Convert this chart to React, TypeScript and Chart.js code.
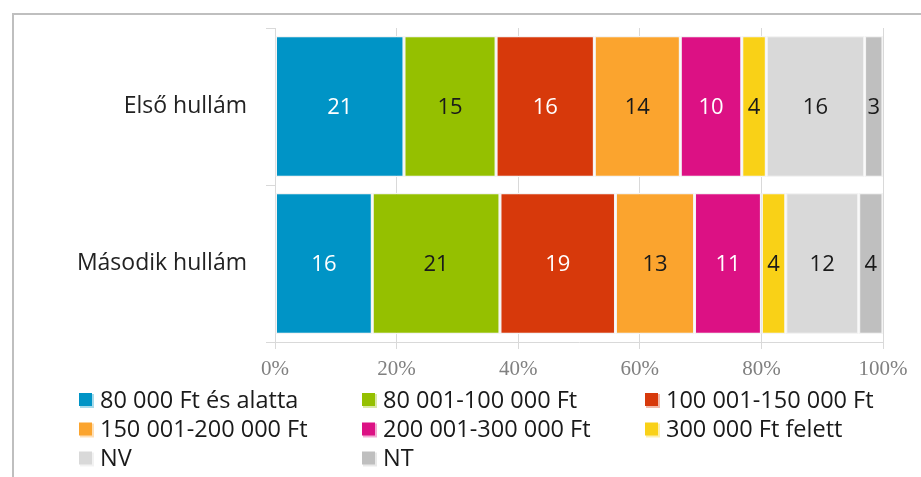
import { useEffect, useRef } from "react";
import { Chart, registerables } from "chart.js";

Chart.register(...registerables);

// Survey waves (categories on the vertical axis)
const categories = ["Első hullám", "Második hullám"];

// Income brackets (stacked series)
const seriesNames = [
  "80 000 Ft és alatta",
  "80 001-100 000 Ft",
  "100 001-150 000 Ft",
  "150 001-200 000 Ft",
  "200 001-300 000 Ft",
  "300 000 Ft felett",
  "NV",
  "NT",
];

// Shares per bracket, in the same order as seriesNames
const firstWave = [21, 15, 16, 14, 10, 4, 16, 3];
const secondWave = [16, 21, 19, 13, 11, 4, 12, 4];

const seriesColors = [
  "#0094C6",
  "#95C000",
  "#D7390B",
  "#FBA42E",
  "#DC1184",
  "#F9D117",
  "#D9D9D9",
  "#BFBFBF",
];
const valueLabelColors = [
  "#FFFFFF",
  "#1A1A1A",
  "#FFFFFF",
  "#1A1A1A",
  "#FFFFFF",
  "#1A1A1A",
  "#1A1A1A",
  "#1A1A1A",
];

const xTickValues = [0, 20, 40, 60, 80, 100];

const SANS = "'Open Sans', sans-serif";
const SERIF = "'Liberation Serif', serif";

const waves = [firstWave, secondWave];
const waveTotals = waves.map((w) => w.reduce((a, b) => a + b, 0));

// Outer frame around the figure
const framePlugin = {
  id: "frame",
  beforeDraw(chart: any) {
    const { ctx, width, height } = chart;
    ctx.save();
    ctx.fillStyle = "#FFFFFF";
    ctx.fillRect(0, 0, width, height);
    ctx.fillStyle = "#BFBFBF";
    ctx.fillRect(12, 13, width - 12, 2);
    ctx.fillRect(12, 13, 2, height - 13);
    ctx.restore();
  },
};

// Raw values written in the middle of each segment
const valueLabelPlugin = {
  id: "valueLabels",
  afterDatasetsDraw(chart: any) {
    const { ctx } = chart;
    ctx.save();
    ctx.font = `22px ${SANS}`;
    ctx.textAlign = "center";
    ctx.textBaseline = "middle";
    chart.data.datasets.forEach((ds: any, i: number) => {
      const meta = chart.getDatasetMeta(i);
      meta.data.forEach((bar: any, j: number) => {
        const raw = ds.rawValues[j];
        const cx = (bar.x + bar.base) / 2;
        ctx.fillStyle = valueLabelColors[i];
        ctx.fillText(String(raw), cx, bar.y + 1);
      });
    });
    ctx.restore();
  },
};

// Three-column legend under the axis
const gridLegendPlugin = {
  id: "gridLegend",
  afterDraw(chart: any) {
    const { ctx } = chart;
    const colX = [79, 362, 645];
    const rowY = [400, 429.5, 458.5];
    ctx.save();
    ctx.font = `23.5px ${SANS}`;
    ctx.textAlign = "left";
    ctx.textBaseline = "middle";
    chart.data.datasets.forEach((ds: any, i: number) => {
      const x = colX[i % 3];
      const y = rowY[Math.floor(i / 3)];
      ctx.globalAlpha = 0.35;
      ctx.fillStyle = ds.backgroundColor;
      ctx.fillRect(x + 1, y - 6, 14, 14);
      ctx.globalAlpha = 1;
      ctx.fillRect(x, y - 7, 13, 13);
      ctx.fillStyle = "#1A1A1A";
      ctx.fillText(ds.label, x + 21, y + 1);
    });
    ctx.restore();
  },
};

export default function App() {
  const canvasRef = useRef<HTMLCanvasElement | null>(null);

  useEffect(() => {
    if (!canvasRef.current) return;
    const datasets = seriesNames.map((name, i) => {
      const rawValues = waves.map((w) => w[i]);
      return {
        label: name,
        rawValues,
        data: rawValues.map((v, j) => (v / waveTotals[j]) * 100),
        backgroundColor: seriesColors[i],
        borderColor: "#F4F4F4",
        borderWidth: 1.5,
        borderSkipped: false,
        barPercentage: 0.9,
        categoryPercentage: 1.0,
      };
    });

    const chart = new Chart(canvasRef.current, {
      type: "bar",
      data: { labels: categories, datasets: datasets as any },
      options: {
        indexAxis: "y",
        responsive: false,
        animation: false,
        layout: { padding: { top: 28, right: 38, left: 0, bottom: 95 } },
        plugins: {
          legend: { display: false },
          tooltip: { enabled: false },
        },
        scales: {
          x: {
            stacked: true,
            min: 0,
            max: 100,
            afterBuildTicks: (scale: any) => {
              scale.ticks = xTickValues.map((v) => ({ value: v }));
            },
            afterFit: (scale: any) => {
              scale.height = 40;
            },
            grid: {
              color: "#D9D9D9",
              lineWidth: 1,
              tickLength: 7,
              drawTicks: true,
            },
            border: { color: "#D9D9D9", width: 1 },
            ticks: {
              padding: 8,
              color: "#808080",
              font: { family: SERIF, size: 21 },
              callback: (v: any) => `${v}%`,
            },
          },
          y: {
            stacked: true,
            afterFit: (scale: any) => {
              scale.width = 275;
              scale.paddingTop = 0;
              scale.paddingBottom = 0;
            },
            grid: {
              offset: true,
              drawOnChartArea: false,
              color: "#D9D9D9",
              tickLength: 9,
            },
            border: { color: "#D9D9D9", width: 1 },
            ticks: {
              padding: 19,
              color: "#222222",
              font: { family: SANS, size: 23 },
            },
          },
        },
      },
      plugins: [framePlugin, valueLabelPlugin, gridLegendPlugin],
    });

    return () => chart.destroy();
  }, []);

  return (
    <div style={{ position: "fixed", left: 0, top: 0, width: 921, height: 477 }}>
      <canvas ref={canvasRef} width={921} height={477} />
    </div>
  );
}
